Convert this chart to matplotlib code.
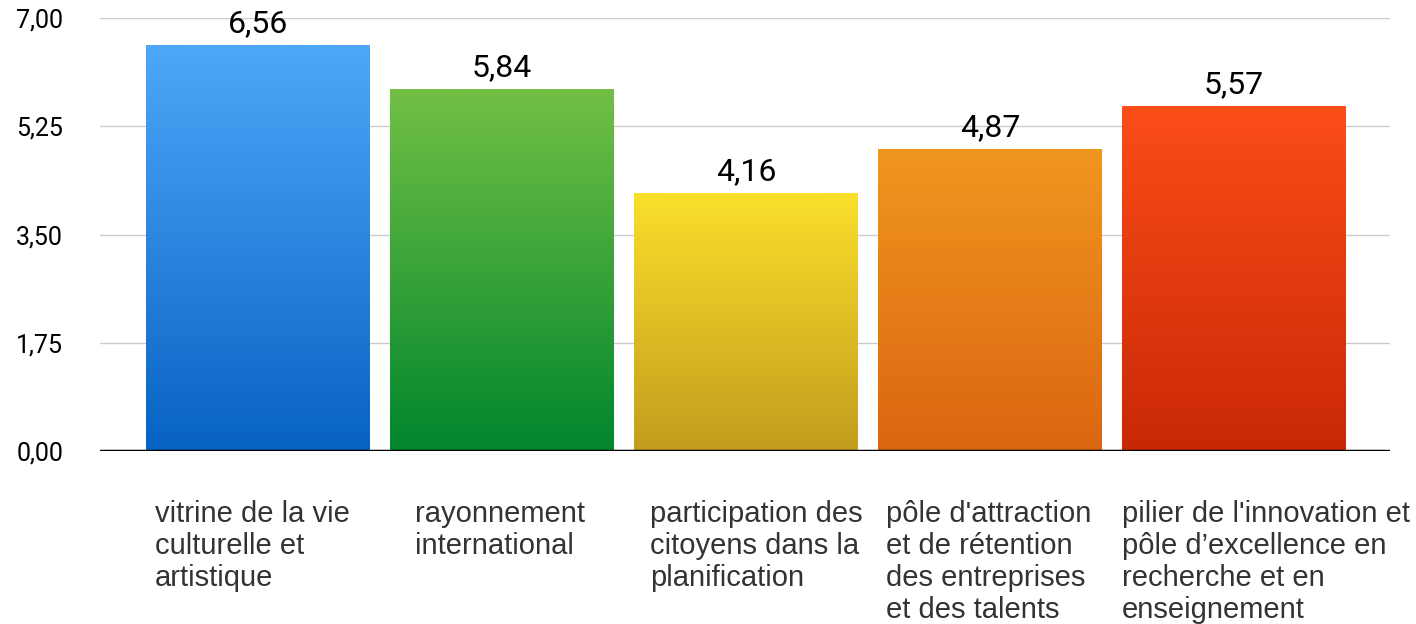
import matplotlib
matplotlib.use("Agg")
import matplotlib.pyplot as plt
import numpy as np
from matplotlib.colors import LinearSegmentedColormap
from matplotlib.transforms import offset_copy

# ---------------------------------------------------------------------------
# Data
# ---------------------------------------------------------------------------
categories = [
    "vitrine de la vie\nculturelle et\nartistique",
    "rayonnement\ninternational",
    "participation des\ncitoyens dans la\nplanification",
    "pôle d'attraction\net de rétention\ndes entreprises\net des talents",
    "pilier de l'innovation et\npôle d\u2019excellence en\nrecherche et en\nenseignement",
]
values = [6.56, 5.84, 4.16, 4.87, 5.57]
y_ticks = [0.0, 1.75, 3.5, 5.25, 7.0]

# top / bottom colours of each bar gradient
top_colors = ["#4FA7F9", "#72C045", "#FADF2B", "#F0961F", "#FB4D18"]
bottom_colors = ["#0862C2", "#00862D", "#C49C1E", "#DB6612", "#C92806"]

# horizontal nudges (px) of the wrapped category labels
label_nudge = [-6, -2, 10, -1, 32]


def fmt(v):
    return f"{v:.2f}".replace(".", ",")


fig = plt.figure(figsize=(14.16, 6.24), dpi=100)
ax = fig.add_axes([100 / 1416, 1 - 451 / 624, 1290 / 1416, 433 / 624])

x = np.arange(len(values))
width = 0.918
bars = ax.bar(x, values, width=width, color="none", zorder=3)

# --- vertical gradients inside each bar ---
grad = np.linspace(0, 1, 256).reshape(-1, 1)
for b, top, bot in zip(bars, top_colors, bottom_colors):
    cmap = LinearSegmentedColormap.from_list("g", [bot, top])
    x0 = b.get_x()
    ax.imshow(grad, cmap=cmap, origin="lower", aspect="auto",
              extent=(x0, x0 + b.get_width(), 0, b.get_height()), zorder=3)

# --- value labels ---
for xi, v in zip(x, values):
    ax.text(xi, v + 0.12, fmt(v), ha="center", va="bottom",
            fontsize=23, family="Roboto", color="#000000", zorder=4)

# --- category labels ---
for xi, lab, dx in zip(x, categories, label_nudge):
    tr = offset_copy(ax.transData, fig=fig, x=dx, y=0, units="dots")
    ax.text(xi, -0.8, lab, ha="center", va="top", multialignment="left",
            fontsize=21, family="Liberation Sans", color="#333333",
            linespacing=1.18, transform=tr)

ax.set_xlim(-0.648, 4.639)
ax.set_ylim(0, 7)
ax.set_yticks(y_ticks)
ax.set_yticklabels([fmt(t) for t in y_ticks], family="Roboto", fontsize=18)
ax.set_xticks([])
ax.tick_params(axis="y", length=0, pad=26.5)

ax.grid(axis="y", color="#CCCCCC", linewidth=1, zorder=0)
ax.axhline(0, color="#000000", linewidth=2.5, zorder=5)
for s in ax.spines.values():
    s.set_visible(False)

fig.savefig("out.png", dpi=100)
